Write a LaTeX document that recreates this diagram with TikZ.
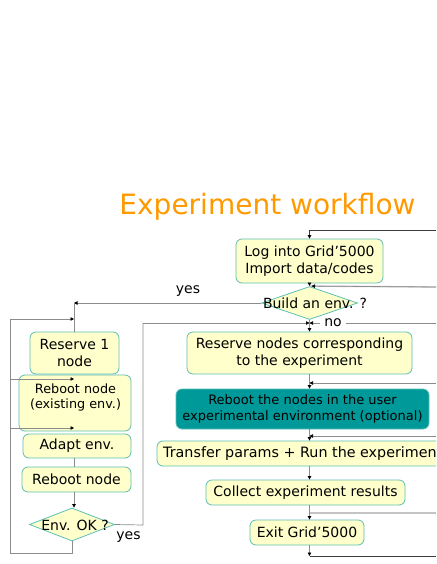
\documentclass[tikz,border=0pt]{standalone}
\usepackage{fontspec}
\setmainfont{DejaVu Sans}
\usetikzlibrary{arrows.meta,shapes.geometric}
\definecolor{boxfill}{HTML}{FFFFCC}
\definecolor{boxline}{HTML}{5BBFB5}
\definecolor{tealfill}{HTML}{009999}
\definecolor{titleorange}{HTML}{FF9900}
\definecolor{linegray}{HTML}{8C8C8C}
\definecolor{lightline}{HTML}{C4C4C4}
\definecolor{darkline}{HTML}{3C3C3C}
\tikzset{
  box/.style={draw=boxline, fill=boxfill, rounded corners=6pt, line width=0.8pt,
    inner sep=0pt, align=center, font=\fontsize{14}{17}\selectfont},
  tealbox/.style={box, fill=tealfill, font=\fontsize{13}{16}\selectfont},
  diam/.style={draw=boxline, fill=boxfill, diamond, line width=0.8pt, inner sep=0pt},
  txt/.style={inner sep=0pt, align=center, font=\fontsize{14}{17}\selectfont},
  conn/.style={draw=linegray, line width=0.7pt},
  lconn/.style={draw=lightline, line width=1.4pt},
  dconn/.style={draw=darkline, line width=0.8pt},
  arr/.style={-{Triangle[length=3.5pt,width=3.5pt,color=black]}},
}
\begin{document}
\begin{tikzpicture}[x=1pt,y=-1pt]
\useasboundingbox (0,0) rectangle (436,564);
\clip (0,0) rectangle (436,564);
\fill[white] (0,0) rectangle (436,564);

% title
\node[inner sep=0pt, text=titleorange, font=\fontsize{28}{32}\selectfont] (title) at (267.5,207) {Experiment workflow};

% right column
\node[box, minimum width=147pt, minimum height=44pt] (log) at (309.5,261) {Log into Grid’5000\\Import data/codes};
\node[diam, minimum width=96pt, minimum height=33pt] (build) at (309.5,303) {};
\node[txt] (buildtxt) at (315,303) {Build an env. ?};
\node[box, minimum width=225pt, minimum height=42pt] (reserve) at (299.5,353) {Reserve nodes corresponding\\to the experiment};
\node[tealbox, minimum width=253pt, minimum height=40pt] (teal) at (302.5,409) {Reboot the nodes in the user\\experimental environment (optional)};
\node[box, minimum width=310pt, minimum height=25pt] (transfer) at (312,453.5) {};
\node[txt, anchor=west, font=\fontsize{14.3}{17}\selectfont] (transfertxt) at (163,453.5) {Transfer params + Run the experiment};
\node[box, minimum width=199pt, minimum height=25pt] (collect) at (305.5,492.5) {Collect experiment results};
\node[box, minimum width=114pt, minimum height=25pt] (exit) at (307,532.5) {Exit Grid’5000};

% left column
\node[box, minimum width=89pt, minimum height=42pt] (res1) at (74.5,353) {Reserve 1\\node};
\node[box, minimum width=112pt, minimum height=56pt] (reb1) at (75,403) {};
\node[txt, font=\fontsize{12.8}{15}\selectfont] (reb1txt) at (75.5,397) {Reboot node\\(existing env.)};
\node[box, minimum width=108pt, minimum height=24pt] (adapt) at (77,446) {Adapt env.};
\node[box, minimum width=109pt, minimum height=25pt] (reb2) at (76.5,479.5) {Reboot node};
\node[diam, minimum width=85pt, minimum height=33pt] (envok) at (72,524.5) {};
\node[txt] (envoktxt) at (75,525) {Env. OK ?};

% labels
\node[txt] (yes1) at (188,291) {yes};
\node[txt] (yes2) at (128.5,537) {yes};

% coordinates
\coordinate (ycorner) at (74,303);
\coordinate (lpA) at (72,553);
\coordinate (lpB) at (10,553);
\coordinate (lpC) at (10,319);
\coordinate (lpD) at (74,319);
\coordinate (lpE) at (74,379);
\coordinate (lpF) at (74,428);
\coordinate (okA) at (143,525);
\coordinate (okB) at (143,323);
\coordinate (noJ) at (309.5,323);
\coordinate (rTop) at (436,230);
\coordinate (rA) at (436,287);
\coordinate (rB) at (436,323);
\coordinate (rC) at (436,383);
\coordinate (rD) at (436,436);
\coordinate (rE) at (436,513);
\coordinate (rF) at (436,556);
\coordinate (botJ) at (309.5,556);
\coordinate (cJ) at (309.5,513);

% left connectors
\draw[conn, arr] (build.west) -- (ycorner);
\draw[conn] (ycorner) -- (ycorner |- res1.north);
\draw[conn] (envok.south) -- (lpA) -- (lpB) -- (lpC);
\draw[conn, arr] (lpC) -- (lpD);
\draw[conn, arr] (lpB |- lpE) -- (lpE);
\draw[conn, arr] (lpB |- lpF) -- (lpF);
\draw[conn] (adapt.south -| ycorner) -- (reb2.north -| ycorner);
\draw[conn, arr] (reb2.south -| ycorner) -- (ycorner |- envok.north);
\draw[conn] (envok.east) -- (okA) -- (okB);
\draw[conn, arr] (okB) -- (noJ);

% right connectors
\draw[dconn, arr] (rTop) -| (log.north);
\draw[conn, arr] (log.south) -- (build.north);
\draw[lconn] (rA) -- (build.north);
\draw[conn, arr] (rA) -- ([xshift=2pt]build.north);
\draw[conn, arr] (rB) -- (noJ);
\node[txt, fill=white, inner xsep=4pt, inner ysep=1pt] (nolbl) at (333,323) {no};
\draw[conn, arr] (build.south) -- (build.south |- reserve.north);
\draw[conn, arr] (rC) -- (rC -| log.south);
\draw[conn, arr] (reserve.south -| log.south) -- (teal.north -| log.south);
\draw[conn, arr] (rD) -- (rD -| log.south);
\draw[conn, arr] (teal.south -| log.south) -- (transfer.north -| log.south);
\draw[conn, arr] (transfer.south -| log.south) -- (collect.north -| log.south);
\draw[lconn] (rE) -- (cJ);
\draw[conn, arr] (collect.south -| log.south) -- (exit.north -| log.south);
\draw[conn, arr] (exit.south -| log.south) -- (botJ);
\draw[dconn] (botJ) -- (rF);
\end{tikzpicture}
\end{document}
